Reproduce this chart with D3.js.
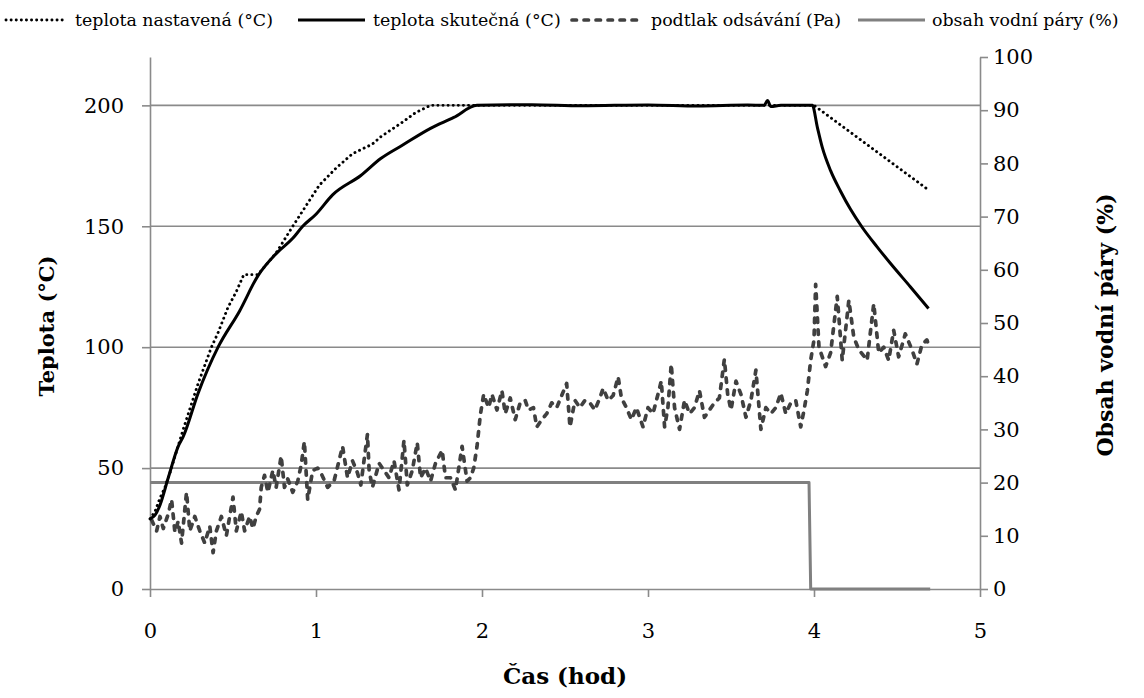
<!DOCTYPE html>
<html><head><meta charset="utf-8">
<script src="https://cdn.jsdelivr.net/npm/d3@7"></script>
<style>
html,body{margin:0;padding:0;background:#fff;}
svg{display:block;font-family:"DejaVu Serif",serif;}
</style></head>
<body>
<script>
// ---- data ----
const xTicks = [0,1,2,3,4,5];
const leftTicks = [0,50,100,150,200];
const rightTicks = [0,10,20,30,40,50,60,70,80,90,100];
const seriesNames = ["teplota nastavená (°C)","teplota skutečná (°C)","podtlak odsávání (Pa)","obsah vodní páry (%)"];

// set temperature (°C) [time h, value]
const tempSet = [[0,29],[0.03,32],[0.06,37.6],[0.09,42],[0.12,48],[0.2,66],[0.29,85],[0.37,100],[0.41,106],[0.47,116.5],[0.52,123],[0.565,130],[0.65,130],[0.76,139],[0.86,150],[1.02,167],[1.12,174],[1.22,180],[1.34,184],[1.39,187],[1.52,193],[1.6,197],[1.69,200],[4.0,200],[4.69,165]];
// actual temperature (°C)
const tempAct = [[0,29],[0.03,30.5],[0.06,34.7],[0.11,46],[0.17,59],[0.2,63],[0.29,81],[0.41,100],[0.54,115],[0.65,129.5],[0.76,138.7],[0.86,145],[0.92,150],[1.0,155],[1.10,163],[1.27,171],[1.39,178],[1.52,183.5],[1.69,190.5],[1.83,195],[1.97,200],[2.3,200.3],[2.6,199.8],[3.0,200.2],[3.3,199.7],[3.6,200.1],[3.70,200],[3.72,202],[3.74,199.5],[3.8,200],[3.99,200],[4.02,191],[4.05,182.6],[4.10,173],[4.16,164.5],[4.22,157],[4.29,149.6],[4.38,141.5],[4.46,134.7],[4.58,125],[4.69,116]];
// extraction underpressure (Pa)
const vacuum = [[0.01,28.5],[0.04,24],[0.06,30],[0.08,25],[0.11,31],[0.13,37],[0.15,23.5],[0.17,28],[0.19,19],[0.22,40],[0.24,24],[0.27,30],[0.30,24],[0.33,19],[0.36,26],[0.38,15],[0.40,24],[0.43,30],[0.46,22],[0.50,38],[0.52,24],[0.55,32],[0.57,24],[0.60,30],[0.62,25],[0.64,30],[0.66,33],[0.67,42],[0.69,47],[0.71,40],[0.74,49],[0.76,42],[0.79,55],[0.81,42],[0.83,45.5],[0.86,40],[0.89,44.6],[0.91,51],[0.93,61],[0.95,37],[0.98,49],[1.01,50],[1.03,48],[1.07,42],[1.11,45],[1.16,59],[1.19,46],[1.22,53],[1.25,48],[1.27,43],[1.31,64],[1.32,49],[1.34,42],[1.38,52],[1.41,49],[1.44,46],[1.47,53],[1.50,41],[1.53,61.5],[1.55,43],[1.58,49],[1.61,60.5],[1.63,46],[1.66,50],[1.69,44.6],[1.72,52],[1.76,57.4],[1.78,46],[1.81,46],[1.84,41],[1.88,59],[1.91,44.6],[1.93,46],[1.95,50],[1.97,59],[1.99,72],[2.01,80.5],[2.04,75],[2.06,80.5],[2.09,74],[2.12,82],[2.14,72.5],[2.17,79],[2.20,70],[2.23,77],[2.26,78],[2.28,74],[2.31,75],[2.33,67],[2.36,70],[2.39,72.5],[2.42,77],[2.45,75],[2.51,85],[2.53,67],[2.56,78],[2.59,75],[2.62,78],[2.65,77],[2.68,74],[2.71,79],[2.73,83],[2.76,78],[2.79,80],[2.82,87.7],[2.84,79],[2.87,75],[2.90,70],[2.93,75],[2.97,67],[3.00,75],[3.03,72.5],[3.06,80.5],[3.08,86],[3.10,67],[3.12,75],[3.14,93],[3.16,75],[3.19,66],[3.22,78],[3.25,72.5],[3.28,75],[3.31,82],[3.34,71],[3.37,74],[3.40,77],[3.43,79],[3.46,95],[3.48,80.5],[3.50,74],[3.53,86],[3.56,80.5],[3.59,71],[3.62,78],[3.65,90.5],[3.68,66],[3.71,75],[3.74,72.5],[3.77,75],[3.80,81],[3.83,72.5],[3.86,77],[3.89,78],[3.92,67],[3.94,74],[3.96,82],[3.98,94.6],[4.0,103],[4.01,126],[4.03,100],[4.07,92],[4.10,97.6],[4.14,121],[4.17,94.6],[4.21,119.4],[4.24,104],[4.27,99],[4.32,94.6],[4.36,118],[4.39,97.6],[4.42,100],[4.45,94.6],[4.48,107],[4.51,96],[4.55,105.5],[4.59,99],[4.62,93],[4.65,101],[4.68,103],[4.69,101]];
// water vapour content (%)
const vapour = [[0,20],[3.97,20],[3.98,0],[4.7,0]];

// ---- layout ----
const W = 1144, H = 698;
const svg = d3.select("body").append("svg").attr("width", W).attr("height", H);
const x = d3.scaleLinear().domain([0,5]).range([150,980]);
const yL = d3.scaleLinear().domain([0,220]).range([589,57]);
const yR = d3.scaleLinear().domain([0,100]).range([589,57]);
const gridCol = "#8a8a8a";

// gridlines
svg.append("g").selectAll("line").data(leftTicks.filter(d=>d>0)).join("line")
  .attr("x1", x(0)).attr("x2", x(5)).attr("y1", d=>yL(d)).attr("y2", d=>yL(d))
  .attr("stroke", gridCol).attr("stroke-width", 1.6);

function styleAxis(g){
  g.select(".domain").attr("stroke", gridCol).attr("stroke-width", 1.6);
  g.selectAll(".tick line").attr("stroke", gridCol).attr("stroke-width", 1.6);
  g.selectAll("text").attr("font-family","DejaVu Serif").attr("font-size", 21).attr("fill","#000");
}
const fmt = d3.format("d");
svg.append("g").attr("transform","translate(150,0)")
  .call(d3.axisLeft(yL).tickValues(leftTicks).tickFormat(fmt).tickSize(8).tickSizeOuter(0).tickPadding(18))
  .call(styleAxis);
svg.append("g").attr("transform","translate(980,0)")
  .call(d3.axisRight(yR).tickValues(rightTicks).tickFormat(fmt).tickSize(8).tickSizeOuter(0).tickPadding(5))
  .call(styleAxis);
svg.append("g").attr("transform","translate(0,589)")
  .call(d3.axisBottom(x).tickValues(xTicks).tickFormat(fmt).tickSize(8).tickSizeOuter(0).tickPadding(26))
  .call(styleAxis);

// series
const lineL = d3.line().x(d=>x(d[0])).y(d=>yL(d[1]));
const lineLs = d3.line().x(d=>x(d[0])).y(d=>yL(d[1])).curve(d3.curveMonotoneX);
const lineR = d3.line().x(d=>x(d[0])).y(d=>yR(d[1]));
const styles = [
  {stroke:"#000", w:2.9, dash:"0.1,5", cap:"round"},
  {stroke:"#000", w:3, dash:null, cap:"butt"},
  {stroke:"#404040", w:3.7, dash:"4.5,7.5", cap:"round"},
  {stroke:"#808080", w:3, dash:null, cap:"butt"}
];
function draw(data, gen, s){
  svg.append("path").datum(data).attr("d", gen).attr("fill","none")
    .attr("stroke", s.stroke).attr("stroke-width", s.w)
    .attr("stroke-dasharray", s.dash).attr("stroke-linecap", s.cap).attr("stroke-linejoin","round");
}
draw(vapour, lineR, styles[3]);
draw(vacuum, lineL, styles[2]);
draw(tempSet, lineL, styles[0]);
draw(tempAct, lineLs, styles[1]);

// legend
const legX = [[6,66,75],[298,365,373],[572,640,651],[858,925,932]];
seriesNames.forEach((n,i)=>{
  const s = styles[i];
  svg.append("line").attr("x1", legX[i][0]).attr("x2", legX[i][1]).attr("y1",20).attr("y2",20)
    .attr("stroke", s.stroke).attr("stroke-width", s.w).attr("stroke-dasharray", s.dash).attr("stroke-linecap", s.cap);
  svg.append("text").attr("x", legX[i][2]).attr("y", 20).attr("dy","0.35em")
    .attr("font-size", 17.4).text(n);
});

// axis titles
svg.append("text").attr("x",565).attr("y",684).attr("text-anchor","middle")
  .attr("font-size",23).attr("font-weight","bold").text("Čas (hod)");
svg.append("text").attr("transform","translate(47,326) rotate(-90)").attr("text-anchor","middle")
  .attr("dy","0.35em").attr("font-size",21).attr("font-weight","bold").text("Teplota (°C)");
svg.append("text").attr("transform","translate(1105,325) rotate(-90)").attr("text-anchor","middle")
  .attr("dy","0.35em").attr("font-size",22).attr("font-weight","bold").text("Obsah vodní páry (%)");
</script>
</body></html>
